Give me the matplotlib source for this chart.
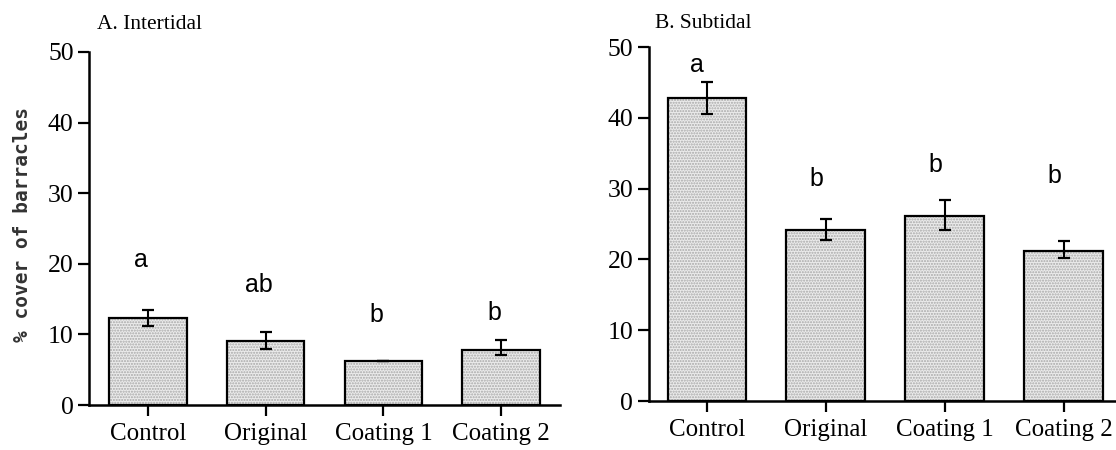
import matplotlib
matplotlib.use("Agg")
import matplotlib.pyplot as plt
import numpy as np

categories = ["Control", "Original", "Coating 1", "Coating 2"]

# A. Intertidal
inter_mean = [12.3, 9.1, 6.3, 7.8]
inter_low = [11.2, 8.0, 6.3, 7.1]
inter_high = [13.4, 10.3, 6.3, 9.2]
inter_letters = ["a", "ab", "b", "b"]
inter_letter_y = [19.6, 16.0, 11.8, 12.0]

# B. Subtidal
sub_mean = [42.8, 24.2, 26.2, 21.2]
sub_low = [40.6, 22.8, 24.1, 20.2]
sub_high = [45.1, 25.7, 28.4, 22.6]
sub_letters = ["a", "b", "b", "b"]
sub_letter_y = [46.5, 30.3, 32.4, 30.8]

yticks = [0, 10, 20, 30, 40, 50]

SERIF = "Liberation Serif"
SANS = "Liberation Sans"

fig = plt.figure(figsize=(11.16, 4.5), dpi=100)

ax1 = fig.add_axes([89 / 1116, 45 / 450, 471 / 1116, 353 / 450])
ax2 = fig.add_axes([648.5 / 1116, 49 / 450, 467.5 / 1116, 354 / 450])


def draw(ax, mean, low, high, letters, letter_y, xlim, letter_dx):
    x = np.arange(len(categories))
    ax.bar(x, mean, width=0.66, color="#ebebeb", edgecolor="#a8a8a8",
           hatch="......", linewidth=0, zorder=1)
    ax.bar(x, mean, width=0.66, fill=False, edgecolor="black",
           linewidth=1.6, zorder=2)
    mean_a = np.array(mean)
    yerr = np.vstack([mean_a - np.array(low), np.array(high) - mean_a])
    ax.errorbar(x, mean, yerr=yerr, fmt="none", ecolor="black",
                elinewidth=1.5, capsize=4.5, capthick=1.6, zorder=3)
    for xi, lt, ly in zip(x, letters, letter_y):
        ax.text(xi + letter_dx, ly, lt, ha="center", va="baseline",
                fontsize=18, family=SANS, zorder=4)
    ax.set_xlim(*xlim)
    ax.set_ylim(0, 50)
    ax.set_yticks(yticks)
    ax.set_yticklabels([str(t) for t in yticks], family=SERIF, fontsize=18.5)
    ax.set_xticks(x)
    ax.set_xticklabels(categories, family=SERIF, fontsize=18)
    for s in ["top", "right"]:
        ax.spines[s].set_visible(False)
    for s in ["left", "bottom"]:
        ax.spines[s].set_linewidth(1.8)
    ax.tick_params(axis="both", length=8, width=1.6, pad=3)
    ax.tick_params(axis="x", pad=5)
    ax.patch.set_alpha(0)


draw(ax1, inter_mean, inter_low, inter_high, inter_letters, inter_letter_y,
     (-0.5, 3.5), -0.06)
draw(ax2, sub_mean, sub_low, sub_high, sub_letters, sub_letter_y,
     (-0.49, 3.44), -0.08)

fig.text(97 / 1116, 1 - 29 / 450, "A. Intertidal", family=SERIF,
         fontsize=15.5, ha="left", va="baseline")
fig.text(655 / 1116, 1 - 28 / 450, "B. Subtidal", family=SERIF,
         fontsize=15.5, ha="left", va="baseline")
fig.text(23 / 1116, 1 - 225 / 450, "% cover of barracles",
         family="DejaVu Sans Mono", fontsize=14, fontweight="bold",
         color="#333333", rotation=90, ha="center", va="center")

fig.savefig("out.png", dpi=100)
